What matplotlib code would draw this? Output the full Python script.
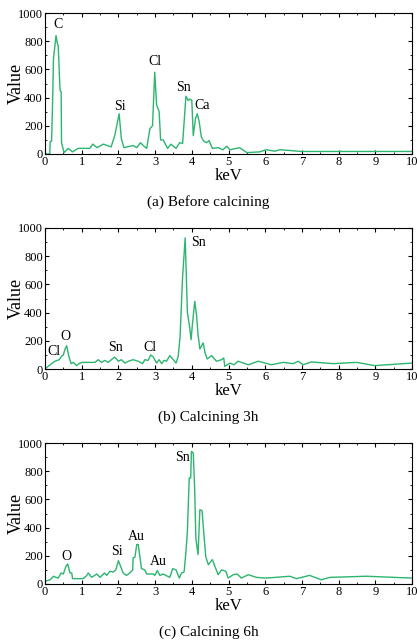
import numpy as np
import matplotlib.pyplot as plt
from matplotlib.ticker import MultipleLocator

plt.rcParams["font.family"] = ["Liberation Serif", "DejaVu Serif"]

LINE_COLOR = "#2bb56f"

# (a) Before calcining
kev_a = [0, 0.13, 0.14, 0.18, 0.21, 0.23, 0.30, 0.34, 0.36, 0.38, 0.41, 0.44, 0.45,
         0.52, 0.63, 0.75, 0.90, 1.22, 1.30, 1.42, 1.59, 1.80, 1.90, 2.02, 2.08, 2.15,
         2.40, 2.50, 2.60, 2.70, 2.77, 2.86, 2.93, 2.99, 3.04, 3.11, 3.15, 3.22, 3.34,
         3.43, 3.57, 3.67, 3.75, 3.84, 3.90, 3.95, 4.00, 4.04, 4.10, 4.15, 4.20, 4.26,
         4.33, 4.40, 4.47, 4.56, 4.72, 4.85, 4.95, 5.04, 5.30, 5.50, 5.85, 6.03, 6.26,
         6.40, 6.67, 6.98, 8.0, 9.0, 10.0]
val_a = [0, 0, 88, 92, 400, 670, 840, 780, 770, 640, 450, 440, 80,
         10, 40, 15, 40, 40, 70, 45, 70, 50, 130, 285, 110, 45,
         60, 45, 80, 55, 40, 180, 200, 580, 350, 300, 100, 100, 40,
         70, 40, 80, 75, 410, 380, 390, 380, 130, 250, 285, 230, 120,
         90, 80, 95, 40, 45, 30, 55, 30, 45, 10, 15, 30, 20,
         30, 25, 18, 18, 18, 18]
labels_a = ["C", "Si", "Cl", "Sn", "Ca"]
lx_a = [0.36, 2.04, 3.0, 3.78, 4.29]
ly_a = [917, 336, 656, 474, 341]

# (b) Calcining 3h
kev_b = [0, 0.14, 0.27, 0.39, 0.45, 0.50, 0.54, 0.59, 0.65, 0.71, 0.77, 0.86, 0.95,
         1.03, 1.36, 1.45, 1.54, 1.63, 1.72, 1.81, 1.90, 2.00, 2.08, 2.18, 2.27, 2.40,
         2.54, 2.66, 2.72, 2.81, 2.88, 2.95, 3.04, 3.11, 3.18, 3.24, 3.31, 3.40, 3.48,
         3.57, 3.63, 3.68, 3.75, 3.82, 3.88, 3.94, 3.98, 4.02, 4.08, 4.13, 4.17, 4.22,
         4.31, 4.36, 4.42, 4.54, 4.67, 4.81, 4.87, 4.90, 5.04, 5.15, 5.26, 5.54, 5.81,
         6.17, 6.49, 6.76, 6.90, 7.03, 7.26, 7.85, 8.49, 8.98, 10.0]
val_b = [0, 30, 55, 66, 90, 100, 137, 165, 90, 38, 47, 24, 42,
         47, 47, 66, 47, 61, 47, 66, 85, 55, 66, 42, 55, 66,
         55, 38, 66, 61, 100, 85, 42, 66, 38, 61, 55, 95, 71,
         42, 90, 230, 657, 930, 400, 300, 208, 325, 480, 380, 245, 142,
         185, 115, 71, 95, 55, 66, 78, 19, 42, 30, 55, 30, 55,
         30, 47, 38, 55, 30, 50, 38, 47, 24, 42]
labels_b = ["Cl", "O", "Sn", "Cl", "Sn"]
lx_b = [0.23, 0.57, 1.93, 2.86, 4.17]
ly_b = [125, 232, 156, 156, 894]

# (c) Calcining 6h
kev_c = [0, 0.14, 0.23, 0.30, 0.36, 0.44, 0.50, 0.57, 0.62, 0.68, 0.73, 0.75, 1.04,
         1.12, 1.18, 1.27, 1.41, 1.50, 1.62, 1.68, 1.77, 1.86, 1.93, 2.00, 2.06, 2.13,
         2.22, 2.31, 2.39, 2.40, 2.45, 2.50, 2.54, 2.59, 2.63, 2.72, 2.77, 2.95, 2.99,
         3.06, 3.13, 3.22, 3.40, 3.48, 3.57, 3.66, 3.72, 3.79, 3.84, 3.88, 3.93, 3.97,
         3.99, 4.04, 4.08, 4.11, 4.17, 4.22, 4.28, 4.33, 4.38, 4.45, 4.56, 4.63, 4.72,
         4.81, 4.93, 4.99, 5.13, 5.24, 5.35, 5.54, 5.76, 6.03, 6.67, 6.85, 7.21, 7.53,
         7.76, 8.76, 10.0]
val_c = [19, 30, 55, 47, 42, 78, 71, 125, 142, 78, 78, 38, 38,
         55, 78, 47, 71, 47, 78, 61, 90, 85, 100, 165, 125, 78,
         61, 78, 100, 185, 190, 280, 280, 185, 109, 100, 71, 71, 61,
         95, 61, 71, 47, 109, 100, 42, 78, 85, 227, 374, 752, 752,
         940, 930, 657, 326, 208, 527, 520, 350, 194, 137, 173, 125, 66,
         100, 90, 42, 66, 71, 42, 66, 47, 42, 55, 38, 61, 30,
         47, 55, 42]
labels_c = ["O", "Si", "Au", "Au", "Sn"]
lx_c = [0.59, 1.97, 2.5, 3.09, 3.75]
ly_c = [196, 232, 338, 161, 900]

captions = ["(a) Before calcining", "(b) Calcining 3h", "(c) Calcining 6h"]
panels = [(kev_a, val_a, labels_a, lx_a, ly_a),
          (kev_b, val_b, labels_b, lx_b, ly_b),
          (kev_c, val_c, labels_c, lx_c, ly_c)]

W, H = 417, 643
fig = plt.figure(figsize=(W / 100, H / 100), dpi=100)

ax_left = 45
ax_right = 412
ax_tops = [13, 228, 443]
ax_h = 141
caption_y = [202, 417, 632]

for i, (x, y, labs, lx, ly) in enumerate(panels):
    top = ax_tops[i]
    ax = fig.add_axes([ax_left / W, 1 - (top + ax_h) / H,
                       (ax_right - ax_left) / W, ax_h / H])
    ax.plot(x, y, color=LINE_COLOR, lw=1.0)
    ax.set_xlim(0, 10)
    ax.set_ylim(0, 1000)
    ax.xaxis.set_major_locator(MultipleLocator(1))
    ax.xaxis.set_minor_locator(MultipleLocator(0.5))
    ax.yaxis.set_major_locator(MultipleLocator(200))
    ax.yaxis.set_minor_locator(MultipleLocator(100))
    ax.tick_params(which="both", direction="in", top=True, right=True,
                   labelsize=9, pad=1.5)
    ax.tick_params(which="major", length=3, width=0.8)
    ax.tick_params(which="minor", length=1.5, width=0.6)
    for sp in ax.spines.values():
        sp.set_linewidth(0.8)
    ax.set_xlabel("keV", fontsize=12, labelpad=0)
    ax.set_ylabel("Value", fontsize=13, labelpad=-5)
    for t, tx, ty in zip(labs, lx, ly):
        ax.text(tx, ty, t, fontsize=10, ha="center", va="center")
    fig.text(0.5, 1 - caption_y[i] / H, captions[i], fontsize=11,
             ha="center", va="center")

fig.savefig("out.png", dpi=100)
